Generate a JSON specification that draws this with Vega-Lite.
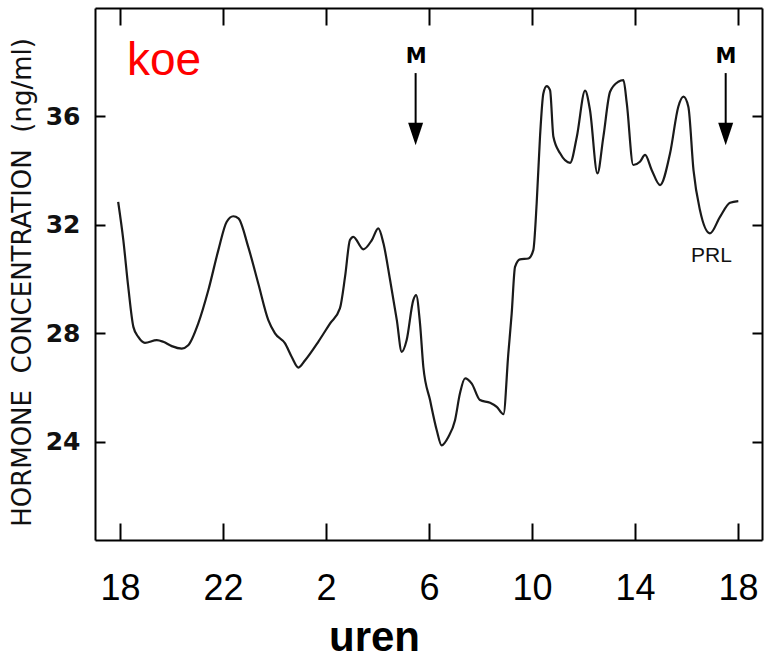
{
  "$schema": "https://vega.github.io/schema/vega-lite/v6.json",
  "autosize": "none",
  "padding": {"left": 95, "top": 8, "right": 7, "bottom": 120},
  "width": 667,
  "height": 532,
  "background": "white",
  "config": {"view": {"stroke": null}},
  "datasets": {
    "curve": [
      {"t": 17.93, "c": 32.85}, {"t": 18.13, "c": 31.44}, {"t": 18.32, "c": 29.72}, {"t": 18.52, "c": 28.24},
      {"t": 18.71, "c": 27.87}, {"t": 18.97, "c": 27.65}, {"t": 19.43, "c": 27.75}, {"t": 19.68, "c": 27.69},
      {"t": 20.01, "c": 27.53}, {"t": 20.40, "c": 27.44}, {"t": 20.65, "c": 27.56}, {"t": 21.04, "c": 28.37},
      {"t": 21.43, "c": 29.59}, {"t": 21.82, "c": 31.07}, {"t": 22.14, "c": 32.11}, {"t": 22.40, "c": 32.32},
      {"t": 22.60, "c": 32.24}, {"t": 22.98, "c": 31.19}, {"t": 23.37, "c": 29.84}, {"t": 23.76, "c": 28.49},
      {"t": 24.02, "c": 28.0}, {"t": 24.41, "c": 27.63}, {"t": 24.67, "c": 27.13}, {"t": 24.93, "c": 26.74},
      {"t": 25.19, "c": 27.01}, {"t": 25.70, "c": 27.69}, {"t": 26.16, "c": 28.37}, {"t": 26.54, "c": 28.92},
      {"t": 26.74, "c": 30.09}, {"t": 26.93, "c": 31.44}, {"t": 27.06, "c": 31.56}, {"t": 27.45, "c": 31.10},
      {"t": 27.78, "c": 31.44}, {"t": 28.03, "c": 31.87}, {"t": 28.23, "c": 31.32}, {"t": 28.49, "c": 29.96},
      {"t": 28.75, "c": 28.49}, {"t": 28.94, "c": 27.32}, {"t": 29.13, "c": 27.75}, {"t": 29.39, "c": 29.23},
      {"t": 29.50, "c": 29.41}, {"t": 29.65, "c": 28.37}, {"t": 29.78, "c": 26.76}, {"t": 30.04, "c": 25.54},
      {"t": 30.30, "c": 24.43}, {"t": 30.49, "c": 23.87}, {"t": 30.75, "c": 24.18}, {"t": 31.01, "c": 24.80},
      {"t": 31.20, "c": 25.78}, {"t": 31.40, "c": 26.34}, {"t": 31.66, "c": 26.15}, {"t": 31.98, "c": 25.54},
      {"t": 32.37, "c": 25.44}, {"t": 32.63, "c": 25.29}, {"t": 32.89, "c": 25.02}, {"t": 33.08, "c": 27.26},
      {"t": 33.21, "c": 28.73}, {"t": 33.34, "c": 30.45}, {"t": 33.53, "c": 30.73}, {"t": 33.86, "c": 30.76},
      {"t": 34.05, "c": 31.07}, {"t": 34.18, "c": 32.79}, {"t": 34.31, "c": 35.25}, {"t": 34.44, "c": 36.85},
      {"t": 34.57, "c": 37.12}, {"t": 34.70, "c": 36.97}, {"t": 34.83, "c": 35.25}, {"t": 35.09, "c": 34.64},
      {"t": 35.48, "c": 34.29}, {"t": 35.74, "c": 35.25}, {"t": 36.06, "c": 36.95}, {"t": 36.25, "c": 36.24},
      {"t": 36.54, "c": 33.90}, {"t": 36.77, "c": 35.25}, {"t": 37.03, "c": 36.91}, {"t": 37.35, "c": 37.28},
      {"t": 37.55, "c": 37.34}, {"t": 37.68, "c": 36.48}, {"t": 37.93, "c": 34.21}, {"t": 38.19, "c": 34.33},
      {"t": 38.39, "c": 34.58}, {"t": 38.65, "c": 34.02}, {"t": 38.97, "c": 33.47}, {"t": 39.36, "c": 34.64},
      {"t": 39.68, "c": 36.36}, {"t": 39.88, "c": 36.73}, {"t": 40.07, "c": 36.36}, {"t": 40.27, "c": 34.02},
      {"t": 40.52, "c": 32.55}, {"t": 40.91, "c": 31.69}, {"t": 41.30, "c": 32.30}, {"t": 41.69, "c": 32.82},
      {"t": 42.01, "c": 32.88}
    ],
    "arrows": [
      {"t": 29.48, "c": 37.60, "c2": 35.61, "head": 35.35, "mt": 29.50, "mc": 37.97},
      {"t": 41.52, "c": 37.60, "c2": 35.61, "head": 35.35, "mt": 41.53, "mc": 37.97}
    ],
    "notes": [
      {"label": "koe", "t": 18.27, "c": 37.53},
      {"label": "PRL", "t": 40.97, "c": 30.63}
    ]
  },
  "resolve": {"axis": {"x": "independent", "y": "independent"}},
  "layer": [
    {
      "data": {"name": "curve"},
      "mark": {"type": "line", "color": "#1a1a1a", "strokeWidth": 2.2, "interpolate": "monotone"},
      "encoding": {
        "x": {
          "field": "t", "type": "quantitative",
          "scale": {"domain": [17.03, 42.93], "nice": false, "zero": false},
          "axis": {
            "orient": "bottom", "values": [18, 22, 26, 30, 34, 38, 42],
            "labelExpr": "'' + (datum.value % 24)",
            "grid": false, "domainColor": "#000", "domainWidth": 2,
            "tickColor": "#000", "tickWidth": 2, "tickSize": -17,
            "labelPadding": 48, "labelFont": "Liberation Sans", "labelFontSize": 36,
            "labelColor": "#000", "labelFlush": false,
            "title": "uren", "titleFont": "Liberation Sans", "titleFontSize": 42,
            "titleFontWeight": "bold", "titleColor": "#000",
            "titleX": 279, "titleY": 110, "titleAlign": "center", "titleBaseline": "alphabetic"
          }
        },
        "y": {
          "field": "c", "type": "quantitative",
          "scale": {"domain": [20.38, 40], "nice": false, "zero": false},
          "axis": {
            "orient": "left", "values": [24, 28, 32, 36],
            "grid": false, "domainColor": "#000", "domainWidth": 2,
            "tickColor": "#000", "tickWidth": 2, "tickSize": -10,
            "labelPadding": 25, "labelFont": "DejaVu Sans", "labelFontSize": 25,
            "labelFontWeight": "bold", "labelColor": "#111",
            "title": "HORMONE\u00a0\u00a0CONCENTRATION\u00a0\u00a0(ng/ml)", "titleFont": "DejaVu Sans",
            "titleFontSize": 26, "titleFontWeight": "normal", "titleColor": "#111", "titleLimit": 600,
            "titleX": -73, "titleY": 274, "titleAngle": -90, "titleAlign": "center", "titleBaseline": "middle"
          }
        }
      }
    },
    {
      "data": {"name": "arrows"},
      "mark": {"type": "rule", "color": "#000", "strokeWidth": 2},
      "encoding": {
        "x": {
          "field": "t", "type": "quantitative",
          "scale": {"domain": [17.03, 42.93], "nice": false, "zero": false},
          "axis": {
            "orient": "top", "values": [18, 22, 26, 30, 34, 38, 42], "labels": false,
            "grid": false, "domainColor": "#000", "domainWidth": 2,
            "tickColor": "#000", "tickWidth": 2, "tickSize": -17, "title": null
          }
        },
        "y": {
          "field": "c", "type": "quantitative",
          "scale": {"domain": [20.38, 40], "nice": false, "zero": false},
          "axis": {
            "orient": "right", "values": [24, 28, 32, 36], "labels": false,
            "grid": false, "domainColor": "#000", "domainWidth": 2,
            "tickColor": "#000", "tickWidth": 2, "tickSize": -10, "title": null
          }
        },
        "y2": {"field": "c2"}
      }
    },
    {
      "data": {"name": "arrows"},
      "mark": {"type": "point", "shape": "M-1,-1.5L1,-1.5L0,1.5Z", "size": 225, "filled": true, "color": "#000", "opacity": 1},
      "encoding": {
        "x": {"field": "t", "type": "quantitative", "axis": null},
        "y": {"field": "head", "type": "quantitative", "axis": null}
      }
    },
    {
      "data": {"name": "arrows"},
      "mark": {"type": "text", "text": "M", "font": "DejaVu Sans", "fontSize": 21, "fontWeight": "bold", "color": "#000", "align": "center", "baseline": "alphabetic"},
      "encoding": {
        "x": {"field": "mt", "type": "quantitative", "axis": null},
        "y": {"field": "mc", "type": "quantitative", "axis": null}
      }
    },
    {
      "data": {"name": "notes"},
      "transform": [{"filter": "datum.label == 'koe'"}],
      "mark": {"type": "text", "font": "Liberation Sans", "fontSize": 46, "color": "#ff0000", "align": "left", "baseline": "alphabetic"},
      "encoding": {
        "x": {"field": "t", "type": "quantitative", "axis": null},
        "y": {"field": "c", "type": "quantitative", "axis": null},
        "text": {"field": "label"}
      }
    },
    {
      "data": {"name": "notes"},
      "transform": [{"filter": "datum.label == 'PRL'"}],
      "mark": {"type": "text", "font": "Liberation Sans", "fontSize": 21, "color": "#111", "align": "center", "baseline": "alphabetic"},
      "encoding": {
        "x": {"field": "t", "type": "quantitative", "axis": null},
        "y": {"field": "c", "type": "quantitative", "axis": null},
        "text": {"field": "label"}
      }
    }
  ]
}
